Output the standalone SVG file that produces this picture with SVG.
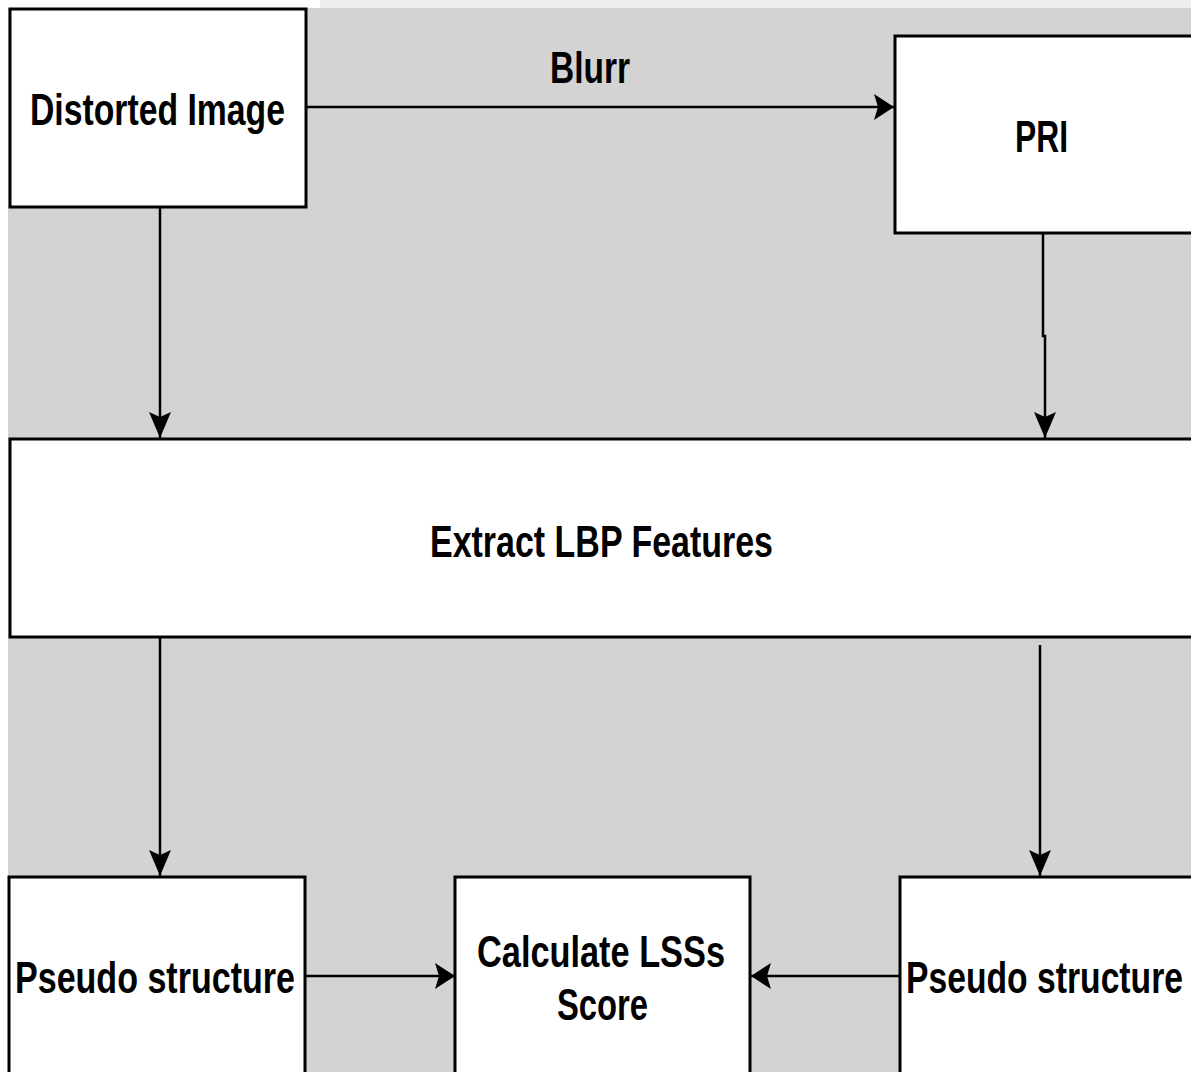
<svg xmlns="http://www.w3.org/2000/svg" width="1191" height="1072" viewBox="0 0 1191 1072">
  <defs>
    <style>
      .box { fill: #ffffff; stroke: #000000; stroke-width: 3; }
      .link { fill: none; stroke: #000000; stroke-width: 2.5; }
      .lbl { font-family: "Liberation Sans", Arial, sans-serif; font-size: 45px; font-weight: bold; fill: #000000; }
    </style>
    <!-- arrowhead for vertical links (longer, narrower) -->
    <marker id="headV" markerUnits="userSpaceOnUse" viewBox="0 -11 27 22" refX="26" refY="0" markerWidth="27" markerHeight="22" orient="auto">
      <path d="M0,-11 L26,0 L0,11 L5,0 Z" fill="#000000"/>
    </marker>
    <!-- arrowhead for horizontal links (shorter, taller) -->
    <marker id="headH" markerUnits="userSpaceOnUse" viewBox="0 -14 21 28" refX="20" refY="0" markerWidth="21" markerHeight="28" orient="auto">
      <path d="M0,-13 L20,0 L0,13 L4,0 Z" fill="#000000"/>
    </marker>
  </defs>

  <!-- canvas -->
  <rect x="0" y="0" width="1191" height="1072" fill="#ffffff"/>
  <rect x="320" y="0" width="871" height="8" fill="#eeeeee"/>
  <rect x="8" y="8" width="1183" height="1064" fill="#d3d3d3"/>

  <!-- connectors -->
  <g id="connectors">
    <path class="link" d="M306,107 H894" marker-end="url(#headH)"/>
    <path class="link" d="M160,207 V438" marker-end="url(#headV)"/>
    <path class="link" d="M1043,233 V336 H1045 V438" marker-end="url(#headV)"/>
    <path class="link" d="M160,637 V876" marker-end="url(#headV)"/>
    <path class="link" d="M1040,645 V876" marker-end="url(#headV)"/>
    <path class="link" d="M305,976 H455" marker-end="url(#headH)"/>
    <path class="link" d="M900,976 H751" marker-end="url(#headH)"/>
    <text class="lbl" x="550" y="83" textLength="80" lengthAdjust="spacingAndGlyphs">Blurr</text>
  </g>

  <!-- nodes -->
  <g id="distorted-image">
    <rect class="box" x="10" y="9" width="296" height="198"/>
    <text class="lbl" x="30" y="125" textLength="255" lengthAdjust="spacingAndGlyphs">Distorted Image</text>
  </g>

  <g id="pri">
    <rect class="box" x="895" y="36" width="300" height="197"/>
    <text class="lbl" x="1015" y="152" textLength="53" lengthAdjust="spacingAndGlyphs">PRI</text>
  </g>

  <g id="extract-lbp">
    <rect class="box" x="10" y="439" width="1185" height="198"/>
    <text class="lbl" x="430" y="557" textLength="343" lengthAdjust="spacingAndGlyphs">Extract LBP Features</text>
  </g>

  <g id="pseudo-left">
    <rect class="box" x="9" y="877" width="296" height="200"/>
    <text class="lbl" x="15" y="993" textLength="280" lengthAdjust="spacingAndGlyphs">Pseudo structure</text>
  </g>

  <g id="lss-score">
    <rect class="box" x="455" y="877" width="295" height="200"/>
    <text class="lbl" x="477" y="967" textLength="248" lengthAdjust="spacingAndGlyphs">Calculate LSSs</text>
    <text class="lbl" x="557" y="1020" textLength="91" lengthAdjust="spacingAndGlyphs">Score</text>
  </g>

  <g id="pseudo-right">
    <rect class="box" x="900" y="877" width="295" height="200"/>
    <text class="lbl" x="906" y="993" textLength="277" lengthAdjust="spacingAndGlyphs">Pseudo structure</text>
  </g>
</svg>
